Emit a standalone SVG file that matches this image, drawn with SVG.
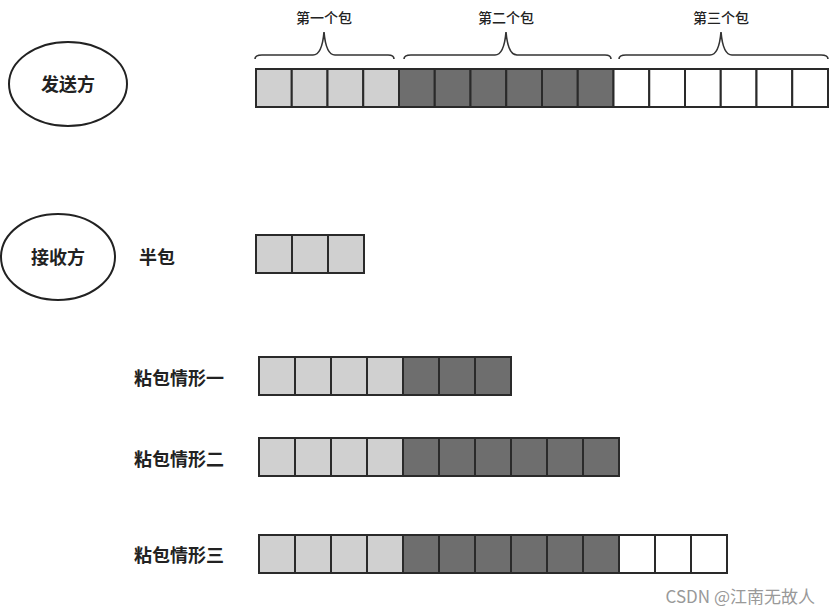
<svg xmlns="http://www.w3.org/2000/svg" width="831" height="615" viewBox="0 0 831 615">
<style>
text{font-family:"Noto Sans CJK SC","Liberation Sans",sans-serif;fill:#222}
.lab{font-size:18px;font-weight:bold}
.sm{font-size:14px;font-weight:500}
.c{stroke:#2a2a2a;stroke-width:2}
.l{fill:#d0d0d0}.d{fill:#6e6e6e}.w{fill:#fff}
.br{fill:none;stroke:#333;stroke-width:1.6}
</style>
<rect width="831" height="615" fill="#fff"/>
<g id="sender"><ellipse cx="68" cy="84" rx="59" ry="42" fill="none" stroke="#222" stroke-width="2"/><text class="lab" x="68" y="91" text-anchor="middle">发送方</text></g>
<g id="receiver"><ellipse cx="58" cy="257" rx="57" ry="43" fill="none" stroke="#222" stroke-width="2"/><text class="lab" x="58" y="264" text-anchor="middle">接收方</text></g>
<g id="braces">
<path class="br" d="M255,59 Q255,55 262,55 L313,55 Q322,55 324,32 Q326,55 335,55 L388,55 Q394,55 394,59"/>
<path class="br" d="M404,59 Q404,55 411,55 L495,55 Q504,55 506,32 Q508,55 517,55 L605,55 Q611,55 611,59"/>
<path class="br" d="M619,59 Q619,55 626,55 L710,55 Q719,55 721,32 Q723,55 732,55 L821,55 Q828,55 828,59"/>
<text class="sm" x="324" y="23" text-anchor="middle">第一个包</text>
<text class="sm" x="506" y="23" text-anchor="middle">第二个包</text>
<text class="sm" x="721" y="23" text-anchor="middle">第三个包</text>
</g>
<g id="send-row">
<rect class="l c" x="256" y="69" width="35.75" height="38"/><rect class="l c" x="291.75" y="69" width="35.75" height="38"/><rect class="l c" x="327.5" y="69" width="35.75" height="38"/><rect class="l c" x="363.25" y="69" width="35.75" height="38"/>
<rect class="d c" x="399" y="69" width="35.75" height="38"/><rect class="d c" x="434.75" y="69" width="35.75" height="38"/><rect class="d c" x="470.5" y="69" width="35.75" height="38"/><rect class="d c" x="506.25" y="69" width="35.75" height="38"/><rect class="d c" x="542" y="69" width="35.75" height="38"/><rect class="d c" x="577.75" y="69" width="35.75" height="38"/>
<rect class="w c" x="613.5" y="69" width="35.75" height="38"/><rect class="w c" x="649.25" y="69" width="35.75" height="38"/><rect class="w c" x="685" y="69" width="35.75" height="38"/><rect class="w c" x="720.75" y="69" width="35.75" height="38"/><rect class="w c" x="756.5" y="69" width="35.75" height="38"/><rect class="w c" x="792.25" y="69" width="35.75" height="38"/>
</g>
<g id="half">
<text class="lab" x="139" y="264">半包</text>
<rect class="l c" x="256" y="235" width="36" height="38"/><rect class="l c" x="292" y="235" width="36" height="38"/><rect class="l c" x="328" y="235" width="36" height="38"/>
</g>
<g id="case1">
<text class="lab" x="134" y="385">粘包情形一</text>
<rect class="l c" x="259" y="357" width="36" height="38"/><rect class="l c" x="295" y="357" width="36" height="38"/><rect class="l c" x="331" y="357" width="36" height="38"/><rect class="l c" x="367" y="357" width="36" height="38"/>
<rect class="d c" x="403" y="357" width="36" height="38"/><rect class="d c" x="439" y="357" width="36" height="38"/><rect class="d c" x="475" y="357" width="36" height="38"/>
</g>
<g id="case2">
<text class="lab" x="134" y="466">粘包情形二</text>
<rect class="l c" x="259" y="438" width="36" height="38"/><rect class="l c" x="295" y="438" width="36" height="38"/><rect class="l c" x="331" y="438" width="36" height="38"/><rect class="l c" x="367" y="438" width="36" height="38"/>
<rect class="d c" x="403" y="438" width="36" height="38"/><rect class="d c" x="439" y="438" width="36" height="38"/><rect class="d c" x="475" y="438" width="36" height="38"/><rect class="d c" x="511" y="438" width="36" height="38"/><rect class="d c" x="547" y="438" width="36" height="38"/><rect class="d c" x="583" y="438" width="36" height="38"/>
</g>
<g id="case3">
<text class="lab" x="134" y="562">粘包情形三</text>
<rect class="l c" x="259" y="535" width="36" height="38"/><rect class="l c" x="295" y="535" width="36" height="38"/><rect class="l c" x="331" y="535" width="36" height="38"/><rect class="l c" x="367" y="535" width="36" height="38"/>
<rect class="d c" x="403" y="535" width="36" height="38"/><rect class="d c" x="439" y="535" width="36" height="38"/><rect class="d c" x="475" y="535" width="36" height="38"/><rect class="d c" x="511" y="535" width="36" height="38"/><rect class="d c" x="547" y="535" width="36" height="38"/><rect class="d c" x="583" y="535" width="36" height="38"/>
<rect class="w c" x="619" y="535" width="36" height="38"/><rect class="w c" x="655" y="535" width="36" height="38"/><rect class="w c" x="691" y="535" width="36" height="38"/>
</g>
<text x="815" y="603" text-anchor="end" style="font-size:17px;fill:#999">CSDN @江南无故人</text>
</svg>
